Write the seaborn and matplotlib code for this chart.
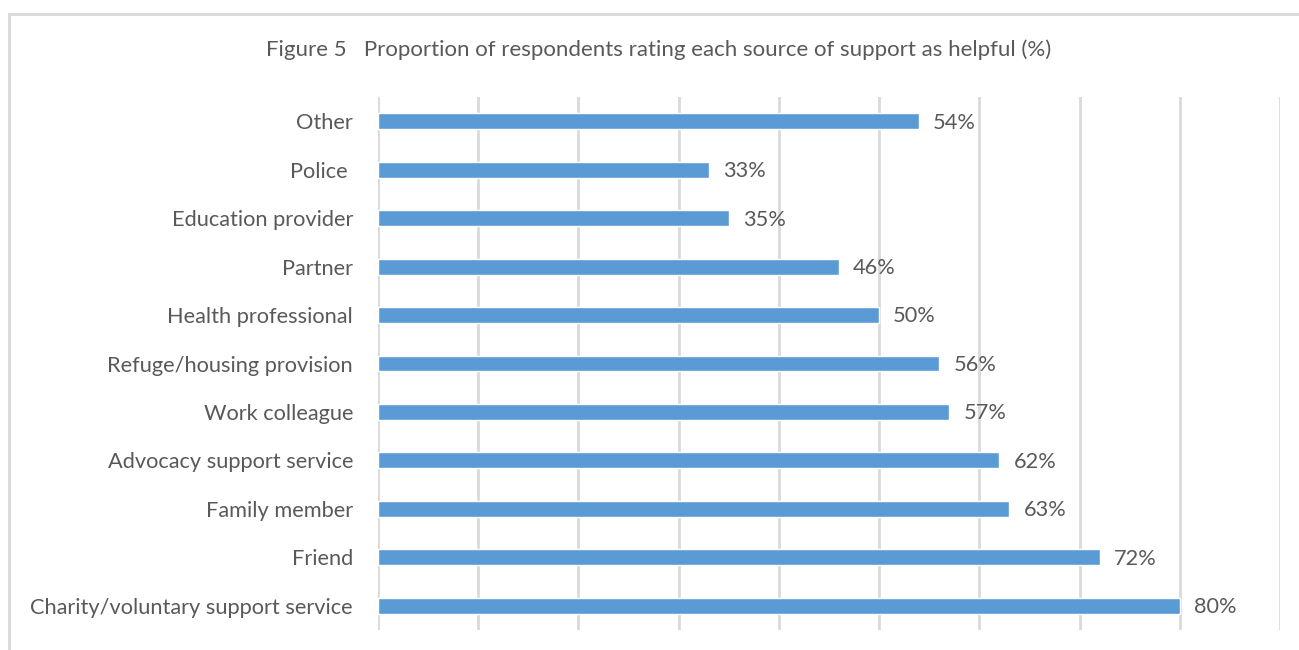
import matplotlib
matplotlib.use("Agg")
import matplotlib.pyplot as plt
from matplotlib.patches import Rectangle
import seaborn as sns
import pandas as pd

categories = [
    "Other", "Police ", "Education provider", "Partner", "Health professional",
    "Refuge/housing provision", "Work colleague", "Advocacy support service",
    "Family member", "Friend", "Charity/voluntary support service",
]
helpful_pct = [54, 33, 35, 46, 50, 56, 57, 62, 63, 72, 80]
title = "Figure 5   Proportion of respondents rating each source of support as helpful (%)"

df = pd.DataFrame({"source": categories, "pct": helpful_pct})

sns.set_theme(style="white")
plt.rcParams["font.family"] = ["Lato", "DejaVu Sans"]
text_color = "#595959"
grid_color = "#d9d9d9"
bar_color = "#5b9bd5"

fig = plt.figure(figsize=(12.99, 6.5), dpi=100)
ax = fig.add_axes([378 / 1299, 1 - 630 / 650, (1280 - 378) / 1299, (630 - 97) / 650])

sns.barplot(data=df, x="pct", y="source", orient="h", color=bar_color,
            width=0.33, saturation=1, ax=ax)

ax.set_xlim(0, 90)
ax.set_xticks(range(0, 91, 10))
ax.xaxis.grid(True, color=grid_color, linewidth=2)
ax.set_axisbelow(True)
for s in ax.spines.values():
    s.set_visible(False)
ax.tick_params(axis="x", length=0, labelbottom=False)
ax.tick_params(axis="y", length=0, pad=18, labelsize=15.7, labelcolor=text_color)
ax.set_xlabel("")
ax.set_ylabel("")

for patch, v in zip(ax.patches, helpful_pct):
    y = patch.get_y() + patch.get_height() / 2
    ax.text(v + 1.4, y + 0.03, f"{v}%", va="center", ha="left", fontsize=15.7,
            color=text_color)

fig.text(659 / 1299, 1 - 50 / 650, title, ha="center", va="center",
         fontsize=16, color=text_color)

# chart frame
fig.patches.append(Rectangle((9 / 1299, -0.1), 1.2, 1 - 14 / 650 + 0.1,
                             transform=fig.transFigure, fill=False,
                             edgecolor=grid_color, linewidth=2))

fig.savefig("out.png", dpi=100)
